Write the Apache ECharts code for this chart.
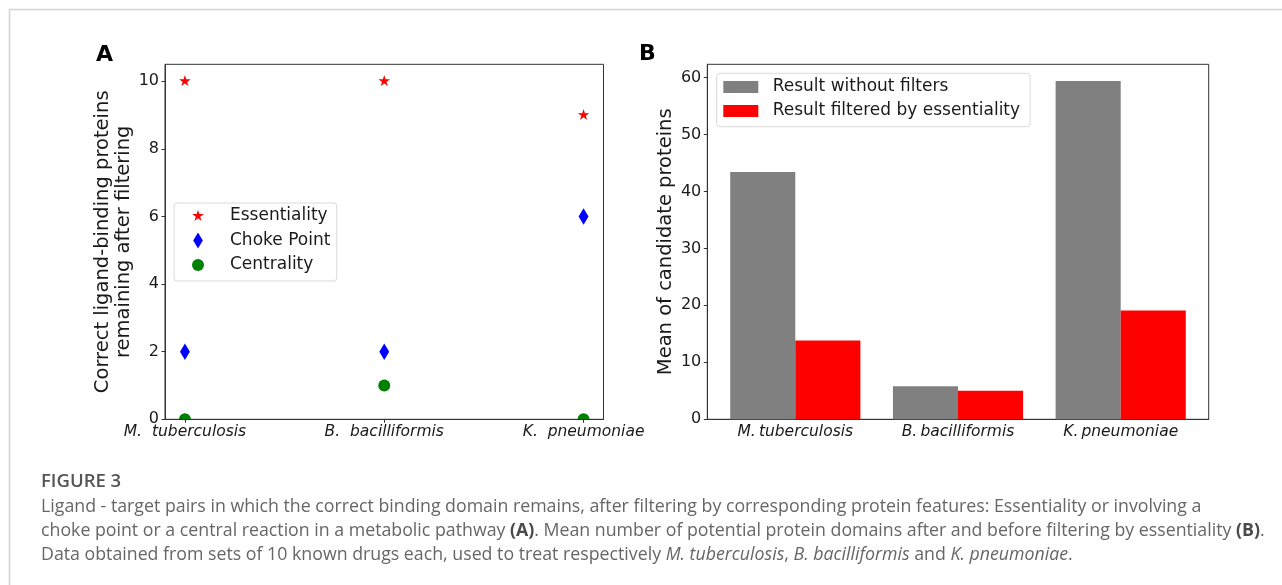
<!DOCTYPE html>
<html>
<head>
<meta charset="utf-8">
<title>Figure 3</title>
<script src="https://cdn.jsdelivr.net/npm/echarts@6.0.0/dist/echarts.min.js"></script>
<style>
  html, body { margin: 0; padding: 0; background: #fff; }
  #chart { width: 1282px; height: 585px; }
</style>
</head>
<body>
<div id="chart"></div>
<script>
  // panel A
  const speciesA = ['M.  tuberculosis', 'B.  bacilliformis', 'K.  pneumoniae'];
  const essentiality = [10, 10, 9];
  const chokePoint = [2, 2, 6];
  const centrality = [0, 1, 0];
  const yTicksA = [0, 2, 4, 6, 8, 10];

  // panel B
  const speciesB = ['M.\u2009tuberculosis', 'B.\u2009bacilliformis', 'K.\u2009pneumoniae'];
  const withoutFilters = [43.4, 5.8, 59.35];
  const filteredByEssentiality = [13.85, 5.0, 19.1];
  const yTicksB = [0, 10, 20, 30, 40, 50, 60];

  const font = 'DejaVu Sans';
  const capFont = 'Open Sans';
  const capSize = 17.75;
  const ink = '#1a1a1a';
  const frame = '#333';

  // markers drawn on the same 100x100 box so plot and legend agree
  const starPath = 'path://M0 0M100 100M50 12L58.53 38.26L86.14 38.26L63.8 54.49L72.34 80.74L50 64.52L27.66 80.74L36.2 54.49L13.86 38.26L41.47 38.26Z';
  const diamondPath = 'path://M0 0M100 100M50 0L80 50L50 100L20 50Z';
  const circlePath = 'path://M0 0M100 100M87.5 50A37.5 37.5 0 1 1 12.5 50A37.5 37.5 0 1 1 87.5 50Z';

  const gridA = { left: 165, top: 64.3, width: 438.5, height: 355 };
  const gridB = { left: 707.3, top: 64.3, width: 501.4, height: 355 };
  // bars sit in their own grid so the category bands match matplotlib's margins
  const gridBars = { left: 713.95, top: 64.3, width: 488.1, height: 355 };

  function tickLabel(extra) {
    return Object.assign({ color: ink, fontFamily: font, fontSize: 16 }, extra);
  }

  const capRich = {
    i: { fontFamily: capFont, fontSize: capSize, fontStyle: 'italic', fill: '#666' },
    b: { fontFamily: capFont, fontSize: capSize, fontWeight: 'bold', fill: '#4a4a4a' }
  };
  function capLine(y, text) {
    return {
      type: 'text', x: 41, y: y,
      style: { text: text, fontFamily: capFont, fontSize: capSize, fill: '#666', verticalAlign: 'middle', rich: capRich }
    };
  }

  const chart = echarts.init(document.getElementById('chart'));
  chart.setOption({
    animation: false,
    backgroundColor: '#fff',
    grid: [
      Object.assign({ show: true, borderColor: frame, borderWidth: 1 }, gridA),
      Object.assign({ show: true, borderColor: frame, borderWidth: 1 }, gridB),
      gridBars
    ],
    xAxis: [
      {
        gridIndex: 0, type: 'value', min: -0.1, max: 2.1, z: 10,
        axisLine: { onZero: false, lineStyle: { color: frame } },
        axisTick: { length: 3.5, customValues: [0, 1, 2], lineStyle: { color: frame } },
        axisLabel: tickLabel({
          customValues: [0, 1, 2], margin: 5, fontSize: 15.5, fontStyle: 'italic',
          formatter: v => speciesA[Math.round(v)]
        }),
        splitLine: { show: false }
      },
      {
        gridIndex: 1, type: 'value', min: -0.54, max: 2.54,
        axisLine: { onZero: false, lineStyle: { color: frame } },
        axisTick: { show: false }, axisLabel: { show: false }, splitLine: { show: false }
      },
      {
        gridIndex: 2, type: 'category', data: speciesB,
        axisLine: { show: false },
        axisTick: { alignWithLabel: true, length: 3.5, lineStyle: { color: frame } },
        axisLabel: tickLabel({ margin: 5, fontSize: 15.5, fontStyle: 'italic' }),
        splitLine: { show: false }
      }
    ],
    yAxis: [
      {
        gridIndex: 0, type: 'value', min: 0, max: 10.5,
        name: 'Correct ligand-binding proteins\nremaining after filtering',
        nameLocation: 'middle', nameGap: 26.5,
        nameTextStyle: { color: ink, fontFamily: font, fontSize: 19.5, lineHeight: 21.5 },
        axisLine: { onZero: false, lineStyle: { color: frame } },
        axisTick: { length: 3.5, customValues: yTicksA, lineStyle: { color: frame } },
        axisLabel: tickLabel({ customValues: yTicksA, margin: 6 }),
        splitLine: { show: false }
      },
      {
        gridIndex: 1, type: 'value', min: 0, max: 62.3,
        name: 'Mean of candidate proteins',
        nameLocation: 'middle', nameGap: 26,
        nameTextStyle: { color: ink, fontFamily: font, fontSize: 19.5, lineHeight: 23 },
        axisLine: { onZero: false, lineStyle: { color: frame } },
        axisTick: { length: 3.5, customValues: yTicksB, lineStyle: { color: frame } },
        axisLabel: tickLabel({ customValues: yTicksB, margin: 6 }),
        splitLine: { show: false }
      },
      { gridIndex: 2, type: 'value', min: 0, max: 62.3, show: false }
    ],
    legend: [
      {
        data: [
          { name: 'Essentiality', icon: starPath },
          { name: 'Choke Point', icon: diamondPath },
          { name: 'Centrality', icon: circlePath }
        ],
        orient: 'vertical', left: 174, top: 203,
        itemWidth: 16, itemHeight: 16, itemGap: 4.5,
        padding: [3, 6.4, 6, 16],
        borderColor: '#d9d9d9', borderWidth: 1, borderRadius: 3,
        backgroundColor: 'rgba(255,255,255,0.8)',
        textStyle: { color: ink, fontFamily: font, fontSize: 17, lineHeight: 20, padding: [0, 0, 0, 19] },
        selectedMode: false
      },
      {
        data: ['Result without filters', 'Result filtered by essentiality'],
        icon: 'rect',
        orient: 'vertical', left: 716.7, top: 73.3,
        itemWidth: 35, itemHeight: 12, itemGap: 4,
        padding: [3.7, 10, 5.7, 6.6],
        borderColor: '#d9d9d9', borderWidth: 1, borderRadius: 3,
        backgroundColor: 'rgba(255,255,255,0.8)',
        textStyle: { color: ink, fontFamily: font, fontSize: 17, lineHeight: 20, padding: [0, 0, 0, 9.4] },
        selectedMode: false
      }
    ],
    series: [
      {
        name: 'Essentiality', type: 'scatter', xAxisIndex: 0, yAxisIndex: 0,
        symbol: starPath, symbolSize: 16, symbolKeepAspect: true,
        itemStyle: { color: '#ff0000', opacity: 1 },
        data: essentiality.map((v, i) => [i, v])
      },
      {
        name: 'Choke Point', type: 'scatter', xAxisIndex: 0, yAxisIndex: 0,
        symbol: diamondPath, symbolSize: 16.5, symbolKeepAspect: true,
        itemStyle: { color: '#0000ff', opacity: 1 },
        data: chokePoint.map((v, i) => [i, v])
      },
      {
        name: 'Centrality', type: 'scatter', xAxisIndex: 0, yAxisIndex: 0,
        symbol: circlePath, symbolSize: 16, symbolKeepAspect: true,
        itemStyle: { color: '#008000', opacity: 1 },
        data: centrality.map((v, i) => [i, v])
      },
      {
        name: 'Result without filters', type: 'bar', xAxisIndex: 2, yAxisIndex: 2,
        barWidth: '40%', barGap: '0%',
        itemStyle: { color: '#808080' },
        data: withoutFilters
      },
      {
        name: 'Result filtered by essentiality', type: 'bar', xAxisIndex: 2, yAxisIndex: 2,
        barWidth: '40%', barGap: '0%',
        itemStyle: { color: '#ff0000' },
        data: filteredByEssentiality
      }
    ],
    graphic: [
      // page frame (top and left only)
      {
        type: 'polyline',
        shape: { points: [[9.5, 585], [9.5, 9.5], [1282, 9.5]] },
        style: { stroke: '#d4d4d4', lineWidth: 1.5, fill: null }
      },
      // matplotlib clips markers sitting on y = 0
      {
        type: 'rect', z: 5,
        shape: { x: gridA.left + 0.5, y: gridA.top + gridA.height + 0.8, width: gridA.width - 1, height: 7 },
        style: { fill: '#fff' }
      },
      { type: 'text', x: 96, y: 55, style: { text: 'A', fontFamily: font, fontSize: 22, fontWeight: 'bold', fill: '#000', verticalAlign: 'middle' } },
      { type: 'text', x: 639, y: 54.5, style: { text: 'B', fontFamily: font, fontSize: 22, fontWeight: 'bold', fill: '#000', verticalAlign: 'middle' } },
      {
        type: 'text', x: 41, y: 482,
        style: { text: 'FIGURE 3', fontFamily: capFont, fontSize: 18.5, fontWeight: 600, fill: '#555', verticalAlign: 'middle' }
      },
      capLine(507, 'Ligand - target pairs in which the correct binding domain remains, after filtering by corresponding protein features: Essentiality or involving a'),
      capLine(531, 'choke point or a central reaction in a metabolic pathway {b|(A)}. Mean number of potential protein domains after and before filtering by essentiality {b|(B)}.'),
      capLine(554.5, 'Data obtained from sets of 10 known drugs each, used to treat respectively {i|M. tuberculosis}, {i|B. bacilliformis} and {i|K. pneumoniae}.')
    ]
  });
</script>
</body>
</html>
